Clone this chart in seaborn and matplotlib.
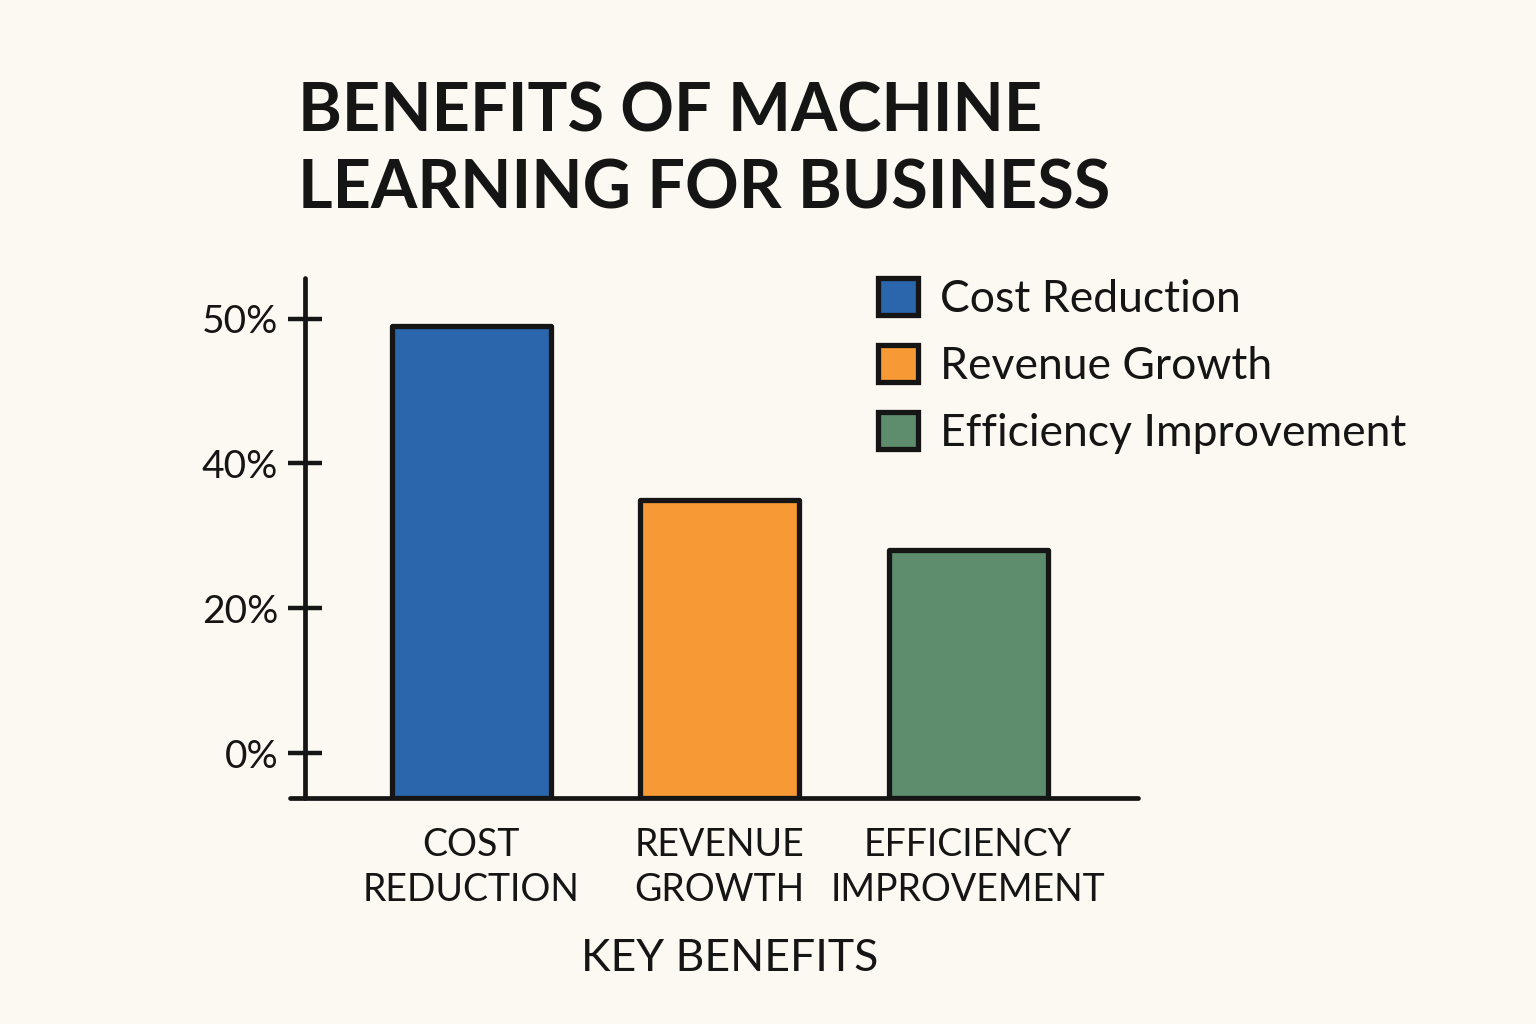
import numpy as np
import pandas as pd
import matplotlib
matplotlib.use('Agg')
import matplotlib.pyplot as plt
import seaborn as sns

# chart data
benefits = ['Cost Reduction', 'Revenue Growth', 'Efficiency Improvement']
tick_names = ['COST\nREDUCTION', 'REVENUE\nGROWTH', 'EFFICIENCY\nIMPROVEMENT']
percent = [49.5, 35, 28]
bar_colors = ['#2B65AC', '#F79A35', '#5E8D6E']
y_ticks = [0, 20, 40, 50]
y_tick_labels = ['0%', '20%', '40%', '50%']

bg = '#FCF9F2'
ink = '#151515'

sns.set_theme(style='white')
plt.rcParams['font.family'] = ['Lato', 'DejaVu Sans']

df = pd.DataFrame({'benefit': benefits, 'percent': percent})

fig = plt.figure(figsize=(15.36, 10.24), dpi=100, facecolor=bg)
ax = fig.add_axes([0.1888, 0.2207, 0.7409 - 0.1888, 0.7285 - 0.2207])
ax.set_facecolor(bg)

sns.barplot(data=df, x='benefit', y='percent', hue='benefit', palette=bar_colors,
            width=0.64, edgecolor=ink, linewidth=3.8, saturation=1, ax=ax, legend=False)

# the drawn axis is evenly spaced per tick, even though 40 -> 50 is a smaller step
def fwd(v):
    v = np.asarray(v, dtype=float)
    return np.where(v <= 40, v / 20, 2 + (v - 40) / 10)

def inv(p):
    p = np.asarray(p, dtype=float)
    return np.where(p <= 2, p * 20, 40 + (p - 2) * 10)

ax.set_yscale('function', functions=(fwd, inv))
ymin, ymax = -6.2, 52.8
ax.set_ylim(ymin, ymax)
ax.set_xlim(-0.73, 2.684)

# bars sit on the baseline
for p in ax.patches:
    top = p.get_y() + p.get_height()
    p.set_y(ymin)
    p.set_height(top - ymin)
    p.set_joinstyle('round')

ax.set_yticks(y_ticks)
ax.set_yticklabels(y_tick_labels)
ax.yaxis.set_minor_locator(matplotlib.ticker.NullLocator())
ax.tick_params(axis='y', direction='inout', length=25, width=3.2, color=ink, pad=7,
               left=True, labelsize=28, labelcolor=ink)
ax.set_xticks(range(len(tick_names)))
ax.set_xticklabels(tick_names, linespacing=1.3)
ax.tick_params(axis='x', length=0, pad=21, labelsize=27, labelcolor=ink)
ax.set_xlabel('KEY BENEFITS', fontsize=32, color=ink, labelpad=22, x=0.518)
ax.set_ylabel('')

for s in ['top', 'right']:
    ax.spines[s].set_visible(False)
for s in ['left', 'bottom']:
    ax.spines[s].set_color(ink)
    ax.spines[s].set_linewidth(3.4)
    ax.spines[s].set_capstyle('round')
ax.spines['left'].set_position(('data', -0.668))

# legend
handles = [matplotlib.patches.Rectangle((0, 0), 1, 1, facecolor=c, edgecolor=ink,
                                        linewidth=3.8, joinstyle='round') for c in bar_colors]
ax.legend(handles, benefits, loc='upper left', bbox_to_anchor=(0.557, 0.750),
          bbox_transform=fig.transFigure, frameon=False, fontsize=32,
          handlelength=0.9, handleheight=0.9, handletextpad=0.5,
          labelspacing=0.57, borderpad=0, labelcolor=ink)

fig.text(0.194, 0.92, 'BENEFITS OF MACHINE\nLEARNING FOR BUSINESS', fontsize=48,
         fontweight='bold', color=ink, ha='left', va='top', linespacing=1.3)

fig.savefig('out.png', dpi=100, facecolor=bg)
